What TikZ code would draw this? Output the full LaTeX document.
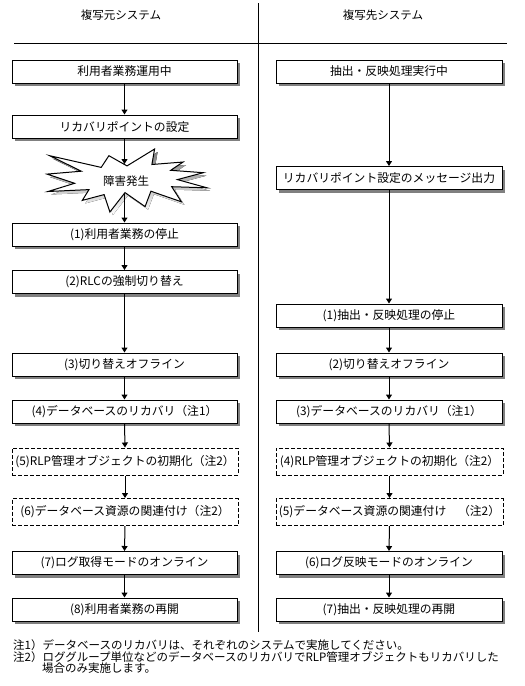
\documentclass[tikz,border=0pt]{standalone}
\usepackage{fontspec}
\setmainfont{Noto Sans CJK JP}
\usetikzlibrary{arrows.meta,shadows}
\definecolor{shade}{HTML}{808080}
\tikzset{
  ln/.style={line width=1pt},
  box/.style={draw, ln, fill=white, minimum height=23pt, inner sep=0pt,
    font=\fontsize{11.8}{12}\selectfont,
    drop shadow={shadow xshift=3pt, shadow yshift=-3pt, fill=shade, opacity=1}},
  lbox/.style={box, minimum width=225pt},
  rbox/.style={box, minimum width=226pt},
  dbox/.style={draw, ln, dash pattern=on 4pt off 2pt, fill=white, minimum height=27pt,
    inner sep=0pt, font=\fontsize{11.8}{12}\selectfont},
  ldbox/.style={dbox, minimum width=226pt},
  rdbox/.style={dbox, minimum width=227pt},
  txt/.style={inner sep=0pt, font=\fontsize{11.5}{12}\selectfont},
  arr/.style={ln, -{Triangle[width=6pt,length=5pt]}},
}
\begin{document}
\begin{tikzpicture}[x=1pt,y=-1pt]
\useasboundingbox (0,0) rectangle (525,686);
% headers
\node[txt] (hl) at (121,15) {複写元システム};
\node[txt] (hr) at (383,15) {複写先システム};
\draw[ln] (258.5,3) -- (258.5,632);
\draw[ln] (14,43.5) -- (507,43.5);

% left column
\node[lbox] (L0) at (124.5,71.5) {利用者業務運用中};
\node[lbox] (L1) at (124.5,126.5) {リカバリポイントの設定};
% explosion
\def\starpath{(127.0,165.9) -- (154.6,149.0) -- (151.9,164.5) -- (183.1,162.0) -- (170.7,170.3) -- (203.3,172.7) -- (177.4,179.6) -- (207.0,187.8) -- (171.7,186.7) -- (181.4,201.8) -- (150.9,191.2) -- (145.1,206.6) -- (125.0,192.6) -- (109.9,212.0) -- (104.1,194.6) -- (82.3,200.4) -- (89.0,189.6) -- (48.0,191.5) -- (74.6,183.3) -- (47.0,174.1) -- (81.3,171.2) -- (49.7,155.7) -- (101.2,167.4) -- (108.9,155.7) -- cycle}
\fill[shade, shift={(3,3)}] \starpath;
\draw[ln, fill=white] \starpath;
\node[txt] (fault) at (126,181) {障害発生};
\coordinate (starIn) at (124.5,164);
\coordinate (starOut) at (124.5,193);
\node[lbox] (L2) at (124.5,234.5) {(1)利用者業務の停止};
\node[lbox] (L3) at (124.5,282) {(2)RLCの強制切り替え};
\node[lbox] (L4) at (124.5,364.5) {(3)切り替えオフライン};
\node[lbox] (L5) at (124.5,411.5) {(4)データベースのリカバリ（注1）};
\node[ldbox] (L6) at (125,461.5) {(5)RLP管理オブジェクトの初期化（注2）};
\node[ldbox] (L7) at (125,512) {(6)データベース資源の関連付け（注2）};
\node[lbox] (L8) at (124.5,563) {(7)ログ取得モードのオンライン};
\node[lbox] (L9) at (124.5,609.5) {(8)利用者業務の再開};

\draw[arr] (L0.south) -- (L1.north);
\draw[arr] (L1.south) -- (starIn);
\draw[arr] (starOut) -- (L2.north);
\draw[arr] (L2.south) -- (L3.north);
\draw[arr] (L3.south) -- (L4.north);
\draw[arr] (L4.south) -- (L5.north);
\draw[arr] (L5.south) -- (L6.north);
\draw[arr] (L6.south) -- (L7.north);
\draw[arr] (L7.south) -- (L8.north);
\draw[arr] (L8.south) -- (L9.north);

% right column
\node[rbox] (R0) at (389,71.5) {抽出・反映処理実行中};
\node[rbox] (R1) at (389,178) {リカバリポイント設定のメッセージ出力};
\node[rbox] (R2) at (389,315.5) {(1)抽出・反映処理の停止};
\node[rbox] (R3) at (389,364.5) {(2)切り替えオフライン};
\node[rbox] (R4) at (389,411.5) {(3)データベースのリカバリ（注1）};
\node[rdbox] (R5) at (389.5,461.5) {(4)RLP管理オブジェクトの初期化（注2）};
\node[rdbox] (R6) at (389.5,512) {(5)データベース資源の関連付け　（注2）};
\node[rbox] (R7) at (389,563) {(6)ログ反映モードのオンライン};
\node[rbox] (R8) at (389,609.5) {(7)抽出・反映処理の再開};

\draw[arr] (R0.south) -- (R1.north);
\draw[arr] (R1.south) -- (R2.north);
\draw[arr] (R2.south) -- (R3.north);
\draw[arr] (R3.south) -- (R4.north);
\draw[arr] (R4.south) -- (R5.north);
\draw[arr] (R5.south) -- (R6.north);
\draw[arr] (R6.south) -- (R7.north);
\draw[arr] (R7.south) -- (R8.north);

% notes
\node[txt, anchor=base west] (n1) at (13,649) {注1）データベースのリカバリは、それぞれのシステムで実施してください。};
\node[txt, anchor=base west] (n2) at (13,661) {注2）ロググループ単位などのデータベースのリカバリでRLP管理オブジェクトもリカバリした};
\node[txt, anchor=base west] (n3) at (42,672.5) {場合のみ実施します。};
\end{tikzpicture}
\end{document}
